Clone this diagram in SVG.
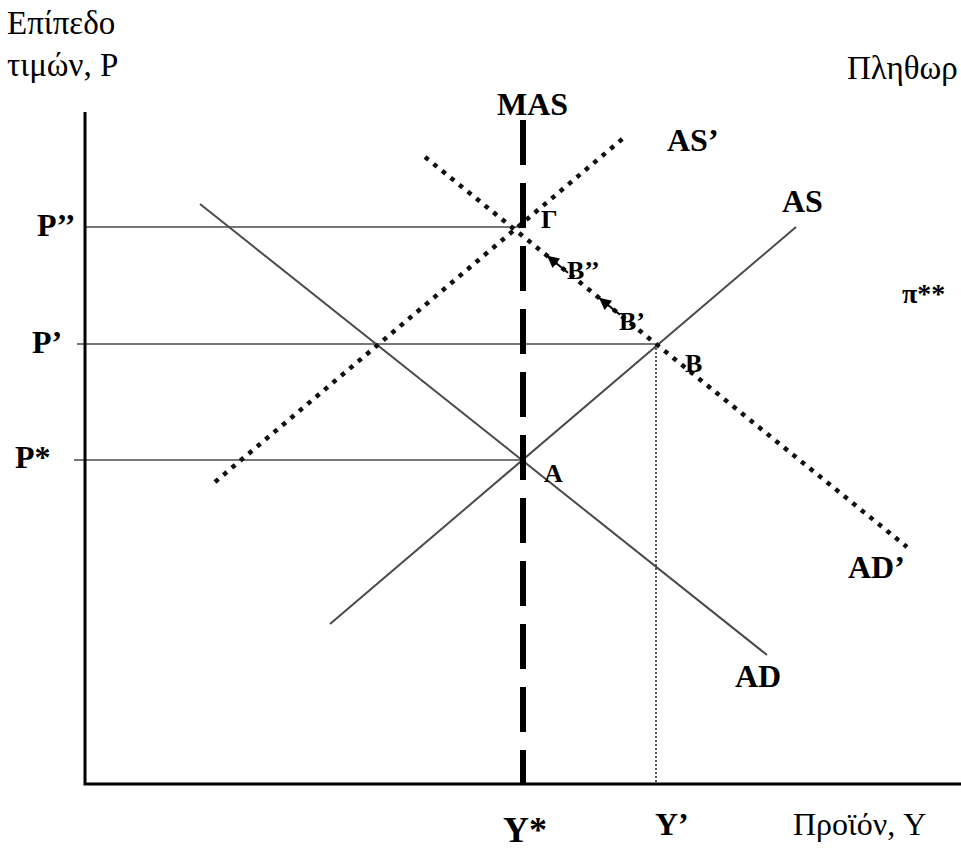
<svg xmlns="http://www.w3.org/2000/svg" width="961" height="852" viewBox="0 0 961 852">
<style>
text{font-family:"Liberation Serif","Times New Roman",serif;fill:#000}
.lbl{font-size:32px;font-weight:bold}
.pt{font-size:26px;font-weight:bold}
.gr{font-size:33px}
.axis{stroke:#000;stroke-width:3;fill:none}
.guide{stroke:#777;stroke-width:2;fill:none}
.curve{stroke:#4a4a4a;stroke-width:2;fill:none}
.dots{stroke:#111;stroke-width:4.5;stroke-dasharray:4.5 6.5;fill:none}
.mas{stroke:#000;stroke-width:6;stroke-dasharray:45 18;fill:none}
.vdot{stroke:#555;stroke-width:2;stroke-dasharray:2 2;fill:none}
.arr{stroke:#000;stroke-width:2;fill:none;marker-end:url(#ah)}
</style>
<defs>
<marker id="ah" viewBox="0 0 10 10" refX="10" refY="5" markerWidth="16" markerHeight="12" markerUnits="userSpaceOnUse" orient="auto">
<path d="M0,0 L10,5 L0,10 z" fill="#000"/>
</marker>
</defs>
<rect width="961" height="852" fill="#fff"/>
<g id="connectors">
<line class="guide" x1="85" y1="227" x2="523" y2="227"/>
<line class="guide" x1="77" y1="344" x2="656" y2="344"/>
<line class="guide" x1="74" y1="460" x2="523" y2="460"/>
<line class="vdot" x1="656" y1="344" x2="656" y2="784"/>
<line id="AD" class="curve" x1="200" y1="204" x2="767" y2="655"/>
<line id="AS" class="curve" x1="330" y1="624" x2="796" y2="227"/>
<line id="ASp" class="dots" x1="215" y1="482" x2="627" y2="135"/>
<line id="ADp" class="dots" x1="425" y1="157" x2="907" y2="547"/>
<line class="mas" x1="523" y1="120" x2="523" y2="784"/>
<line class="arr" x1="568" y1="272.7" x2="547" y2="255.7"/>
<line class="arr" x1="620" y1="314.8" x2="599" y2="297.8"/>
<polyline class="axis" points="85,112 85,784 961,784"/>
</g>
<g id="axis-labels">
<text class="gr" x="7" y="34">Επίπεδο</text>
<text class="gr" x="7" y="76">τιμών, P</text>
<text class="gr" x="847" y="79">Πληθωρ</text>
<text class="gr" x="793" y="835" style="font-size:32px">Προϊόν, Y</text>
<text class="pt" x="902" y="303" style="font-size:28px">π**</text>
</g>
<g id="price-labels">
<text class="lbl" x="37" y="236">P’’</text>
<text class="lbl" x="32" y="353">P’</text>
<text class="lbl" x="15" y="468">P*</text>
</g>
<g id="output-labels">
<text class="lbl" x="503" y="842" style="font-size:36px">Y*</text>
<text class="lbl" x="655" y="835">Y’</text>
</g>
<g id="curve-labels">
<text class="lbl" x="497" y="115">MAS</text>
<text class="lbl" x="667" y="151">AS’</text>
<text class="lbl" x="782" y="212">AS</text>
<text class="lbl" x="848" y="578">AD’</text>
<text class="lbl" x="735" y="687">AD</text>
</g>
<g id="points">
<text class="pt" x="541" y="228">Γ</text>
<text class="pt" x="567" y="279">B’’</text>
<text class="pt" x="619" y="330">B’</text>
<text class="pt" x="685" y="372">B</text>
<text class="pt" x="544" y="482">A</text>
</g>
</svg>
